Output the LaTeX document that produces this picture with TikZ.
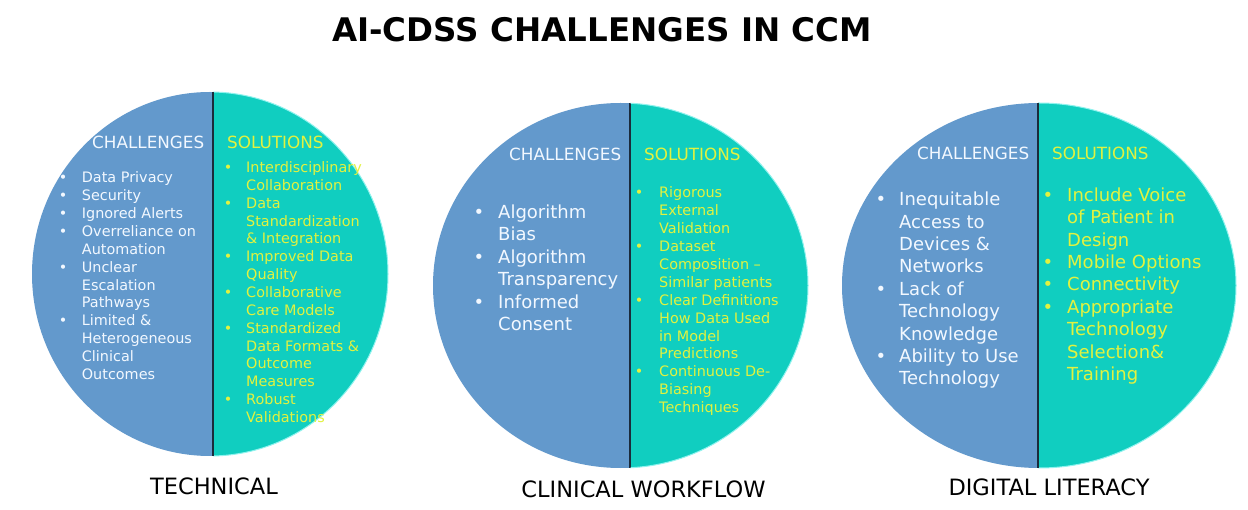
\documentclass[tikz,border=0pt]{standalone}
\usepackage{fontspec}
\setmainfont{DejaVu Sans}
\usepackage{graphicx}
\definecolor{cblue}{HTML}{6399CC}
\definecolor{cteal}{HTML}{10CEC0}
\definecolor{ctxt}{HTML}{F2F8FF}
\definecolor{csol}{HTML}{E2F23F}
\definecolor{cdiv}{HTML}{1B2B3B}
\definecolor{cglow}{HTML}{8FF3EE}
\tikzset{
  txt/.style={anchor=base west, inner sep=0pt},
  chal/.style={txt, text=ctxt},
  sol/.style={txt, text=csol},
  bul/.style={anchor=base, inner sep=0pt},
  headf/.style={font=\fontsize{16.8}{20}\selectfont},
  smallf/.style={font=\fontsize{14.4}{17}\selectfont},
  bigf/.style={font=\fontsize{18}{22}\selectfont},
  titlef/.style={anchor=base, inner sep=0pt, font=\bfseries\fontsize{32.5}{36}\selectfont},
  labf/.style={anchor=base, inner sep=0pt, font=\fontsize{22.5}{26}\selectfont},
  divline/.style={cdiv, line width=2pt},
}
\newcommand\halfdisc[5]{%
  \begin{scope}
    \clip (#1,#2) ellipse [x radius=#3pt, y radius=#4pt];
    \fill[cblue] ({#1-#3-2},{#2-#4-2}) rectangle (#5,{#2+#4+2});
    \fill[cteal] (#5,{#2-#4-2}) rectangle ({#1+#3+2},{#2+#4+2});
  \end{scope}
  \begin{scope}
    \clip (#5,{#2-#4-2}) rectangle ({#1+#3+2},{#2+#4+2});
    \draw[cglow, line width=1pt] (#1,#2) ellipse [x radius=#3pt, y radius=#4pt];
  \end{scope}
  \begin{scope}
    \clip (#1,#2) ellipse [x radius=#3pt, y radius=#4pt];
    \draw[divline] (#5,{#2-#4-2}) -- (#5,{#2+#4+2});
  \end{scope}}
\begin{document}
\begin{tikzpicture}[x=1pt,y=-1pt]
\useasboundingbox (0,0) rectangle (1248,510);
\fill[white] (0,0) rectangle (1248,510);

\node[titlef] (title) at (602,41.5) {AI-CDSS CHALLENGES IN CCM};

% ---------- circle 1 : TECHNICAL ----------
\halfdisc{210}{274}{178}{182}{213}
\node[chal,headf] (c1h) at (92,149) {CHALLENGES};
\node[sol,headf] (s1h) at (227,149) {SOLUTIONS};
\foreach \t [count=\i] in {Data Privacy, Security, Ignored Alerts, Overreliance on, Automation, Unclear, Escalation, Pathways, Limited \&, Heterogeneous, Clinical, Outcomes}
  \node[chal,smallf] (c1l\i) at (81.7,{183+(\i-1)*17.85}) {\t};
\foreach \i in {1,2,3,4,6,9}
  \node[bul,smallf,text=ctxt] (c1b\i) at (63,{183+(\i-1)*17.85}) {•};
\foreach \t [count=\i] in {Interdisciplinary, Collaboration, Data, Standardization, \& Integration, Improved Data, Quality, Collaborative, Care Models, Standardized, Data Formats \&, Outcome, Measures, Robust, Validations}
  \node[sol,smallf] (s1l\i) at (246,{172.5+(\i-1)*17.86}) {\t};
\foreach \i in {1,3,6,8,10,14}
  \node[bul,smallf,text=csol] (s1b\i) at (228,{172.5+(\i-1)*17.86}) {•};
\node[labf] (lab1) at (214,494.5) {TECHNICAL};

% ---------- circle 2 : CLINICAL WORKFLOW ----------
\halfdisc{620.5}{285.5}{187.5}{182.5}{630}
\node[chal,headf] (c2h) at (509,161) {CHALLENGES};
\node[sol,headf] (s2h) at (644,161) {SOLUTIONS};
\foreach \t [count=\i] in {Algorithm, Bias, Algorithm, Transparency, Informed, Consent}
  \node[chal,bigf] (c2l\i) at (498,{218.2+(\i-1)*22.46}) {\t};
\foreach \i in {1,3,5}
  \node[bul,bigf,text=ctxt] (c2b\i) at (479,{218.2+(\i-1)*22.46}) {•};
\foreach \t [count=\i] in {Rigorous, External, Validation, Dataset, Composition –, Similar patients, Clear Definitions, How Data Used, in Model, Predictions, Continuous De-, Biasing, Techniques}
  \node[sol,smallf] (s2l\i) at (659,{198+(\i-1)*17.88}) {\t};
\foreach \i in {1,4,7,11}
  \node[bul,smallf,text=csol] (s2b\i) at (639,{198+(\i-1)*17.88}) {•};
\node[labf] (lab2) at (643.5,497) {CLINICAL WORKFLOW};

% ---------- circle 3 : DIGITAL LITERACY ----------
\halfdisc{1039}{285.5}{197}{182.5}{1038}
\node[chal,headf] (c3h) at (917,160) {CHALLENGES};
\node[sol,headf] (s3h) at (1052,160) {SOLUTIONS};
\foreach \t [count=\i] in {Inequitable, Access to, Devices \&, Networks, Lack of, Technology, Knowledge, Ability to Use, Technology}
  \node[chal,bigf] (c3l\i) at (899,{205.8+(\i-1)*22.375}) {\t};
\foreach \i in {1,5,8}
  \node[bul,bigf,text=ctxt] (c3b\i) at (881,{205.8+(\i-1)*22.375}) {•};
\foreach \t [count=\i] in {Include Voice, of Patient in, Design, Mobile Options, Connectivity, Appropriate, Technology, Selection\&, Training}
  \node[sol,bigf] (s3l\i) at (1067,{201.5+(\i-1)*22.375}) {\t};
\foreach \i in {1,4,5,6}
  \node[bul,bigf,text=csol] (s3b\i) at (1048,{201.5+(\i-1)*22.375}) {•};
\node[labf] (lab3) at (1049,495) {DIGITAL LITERACY};
\end{tikzpicture}
\end{document}
